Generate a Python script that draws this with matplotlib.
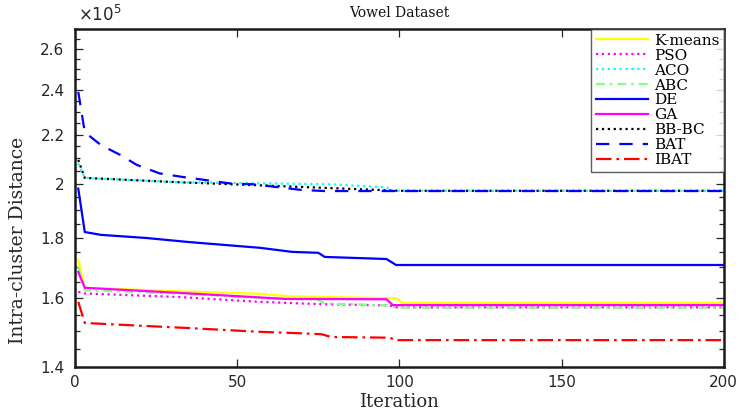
import numpy as np
import matplotlib
matplotlib.use("Agg")
import matplotlib.pyplot as plt
from matplotlib.ticker import FixedLocator, FixedFormatter, NullFormatter

# Convergence curves (intra-cluster distance, units of 1e5) per algorithm
kmeans_it = [1, 3, 32, 57, 66, 99, 101, 200]
kmeans_val = [1.724, 1.633, 1.622, 1.614, 1.606, 1.600, 1.586, 1.586]

pso_it = [1, 3, 32, 57, 75, 97, 99, 200]
pso_val = [1.620, 1.615, 1.604, 1.589, 1.582, 1.578, 1.572, 1.572]

aco_it = [1, 3, 32, 79, 96, 98, 200]
aco_val = [2.080, 2.022, 2.005, 1.997, 1.985, 1.972, 1.972]

abc_it = [1, 3, 32, 60, 75, 77, 97, 99, 200]
abc_val = [1.700, 1.625, 1.615, 1.600, 1.595, 1.584, 1.578, 1.571, 1.571]

de_it = [1, 3, 8, 22, 35, 57, 67, 75, 77, 96, 99, 200]
de_val = [1.980, 1.820, 1.810, 1.799, 1.785, 1.765, 1.751, 1.748, 1.734, 1.727, 1.707, 1.707]

ga_it = [1, 3, 32, 65, 96, 98, 200]
ga_val = [1.684, 1.633, 1.617, 1.598, 1.597, 1.579, 1.579]

bbbc_it = [1, 3, 32, 63, 94, 100, 200]
bbbc_val = [2.094, 2.022, 2.005, 1.990, 1.975, 1.972, 1.972]

bat_it = [1, 3, 8, 14, 19, 26, 33, 40, 48, 55, 63, 70, 77, 200]
bat_val = [2.390, 2.210, 2.155, 2.114, 2.074, 2.040, 2.026, 2.014, 2.000, 1.997, 1.985, 1.975, 1.971, 1.971]

ibat_it = [1, 3, 35, 57, 69, 76, 79, 97, 99, 200]
ibat_val = [1.589, 1.525, 1.510, 1.499, 1.495, 1.492, 1.484, 1.482, 1.475, 1.475]

y_ticks = [1.4, 1.6, 1.8, 2.0, 2.2, 2.4, 2.6]
y_tick_labels = ["1.4", "1.6", "1.8", "2", "2.2", "2.4", "2.6"]
x_ticks = [0, 50, 100, 150, 200]

serif = ["DejaVu Serif"]
sans = ["DejaVu Sans"]
ink = "#262626"

fig = plt.figure(figsize=(7.4, 4.17), dpi=100)
ax = fig.add_axes([0.1014, 0.12, 0.8766, 0.81])

series = [
    ("K-means", kmeans_it, kmeans_val, "#ffff00", "-"),
    ("PSO", pso_it, pso_val, "#ff00ff", ":"),
    ("ACO", aco_it, aco_val, "#00ffff", ":"),
    ("ABC", abc_it, abc_val, "#80ff80", (0, (4, 2.2, 1.2, 2.2))),
    ("DE", de_it, de_val, "#0000ff", "-"),
    ("GA", ga_it, ga_val, "#ff00ff", "-"),
    ("BB-BC", bbbc_it, bbbc_val, "#000000", ":"),
    ("BAT", bat_it, bat_val, "#0000ff", (0, (6, 4.5))),
    ("IBAT", ibat_it, ibat_val, "#ff0000", (0, (7, 2.2, 1.2, 2.2))),
]

for name, it, val, color, ls in series:
    ax.plot(it, np.array(val) * 1e5, color=color, linestyle=ls, linewidth=1.6,
            label=name)

ax.set_yscale("log")
ax.set_xlim(0, 200)
ax.set_ylim(1.4e5, 2.7e5)

ax.yaxis.set_major_locator(FixedLocator([v * 1e5 for v in y_ticks]))
ax.yaxis.set_major_formatter(FixedFormatter(y_tick_labels))
minor = [v * 1e5 for v in np.arange(1.45, 2.70, 0.05)]
ax.yaxis.set_minor_locator(FixedLocator(minor))
ax.yaxis.set_minor_formatter(NullFormatter())
ax.xaxis.set_major_locator(FixedLocator(x_ticks))

ax.tick_params(axis="both", which="both", direction="in", top=True, right=True,
               width=0.9, colors=ink)
ax.tick_params(axis="both", which="major", length=5.5, labelsize=11, labelcolor=ink)
ax.tick_params(axis="x", which="major", pad=6)
ax.tick_params(axis="y", which="major", pad=7.5)
ax.tick_params(axis="y", which="minor", length=3.5)
for lab in ax.get_xticklabels() + ax.get_yticklabels():
    lab.set_family(sans)

for sp in ax.spines.values():
    sp.set_linewidth(1.8)
    sp.set_color("#1a1a1a")

ax.set_xlabel("Iteration", family=serif, fontsize=13, labelpad=2, color=ink)
ax.set_ylabel("Intra-cluster Distance", family=serif, fontsize=13.5, color=ink)
ax.yaxis.set_label_coords(-0.074, 0.376)
ax.set_title("Vowel Dataset", family=serif, fontsize=10, pad=9, color="#111111")

ax.text(0.004, 1.012, r"$\times 10^{5}$", transform=ax.transAxes, fontsize=12,
        color=ink, ha="left", va="bottom")

leg = ax.legend(loc="upper right", prop={"family": serif, "size": 11},
                frameon=True, fancybox=False, borderaxespad=0.0,
                handlelength=3.4, handletextpad=0.4, labelspacing=0.06,
                borderpad=0.3)
leg.get_frame().set_edgecolor("#333333")
leg.get_frame().set_linewidth(1.0)

fig.savefig("out.png", dpi=100)
